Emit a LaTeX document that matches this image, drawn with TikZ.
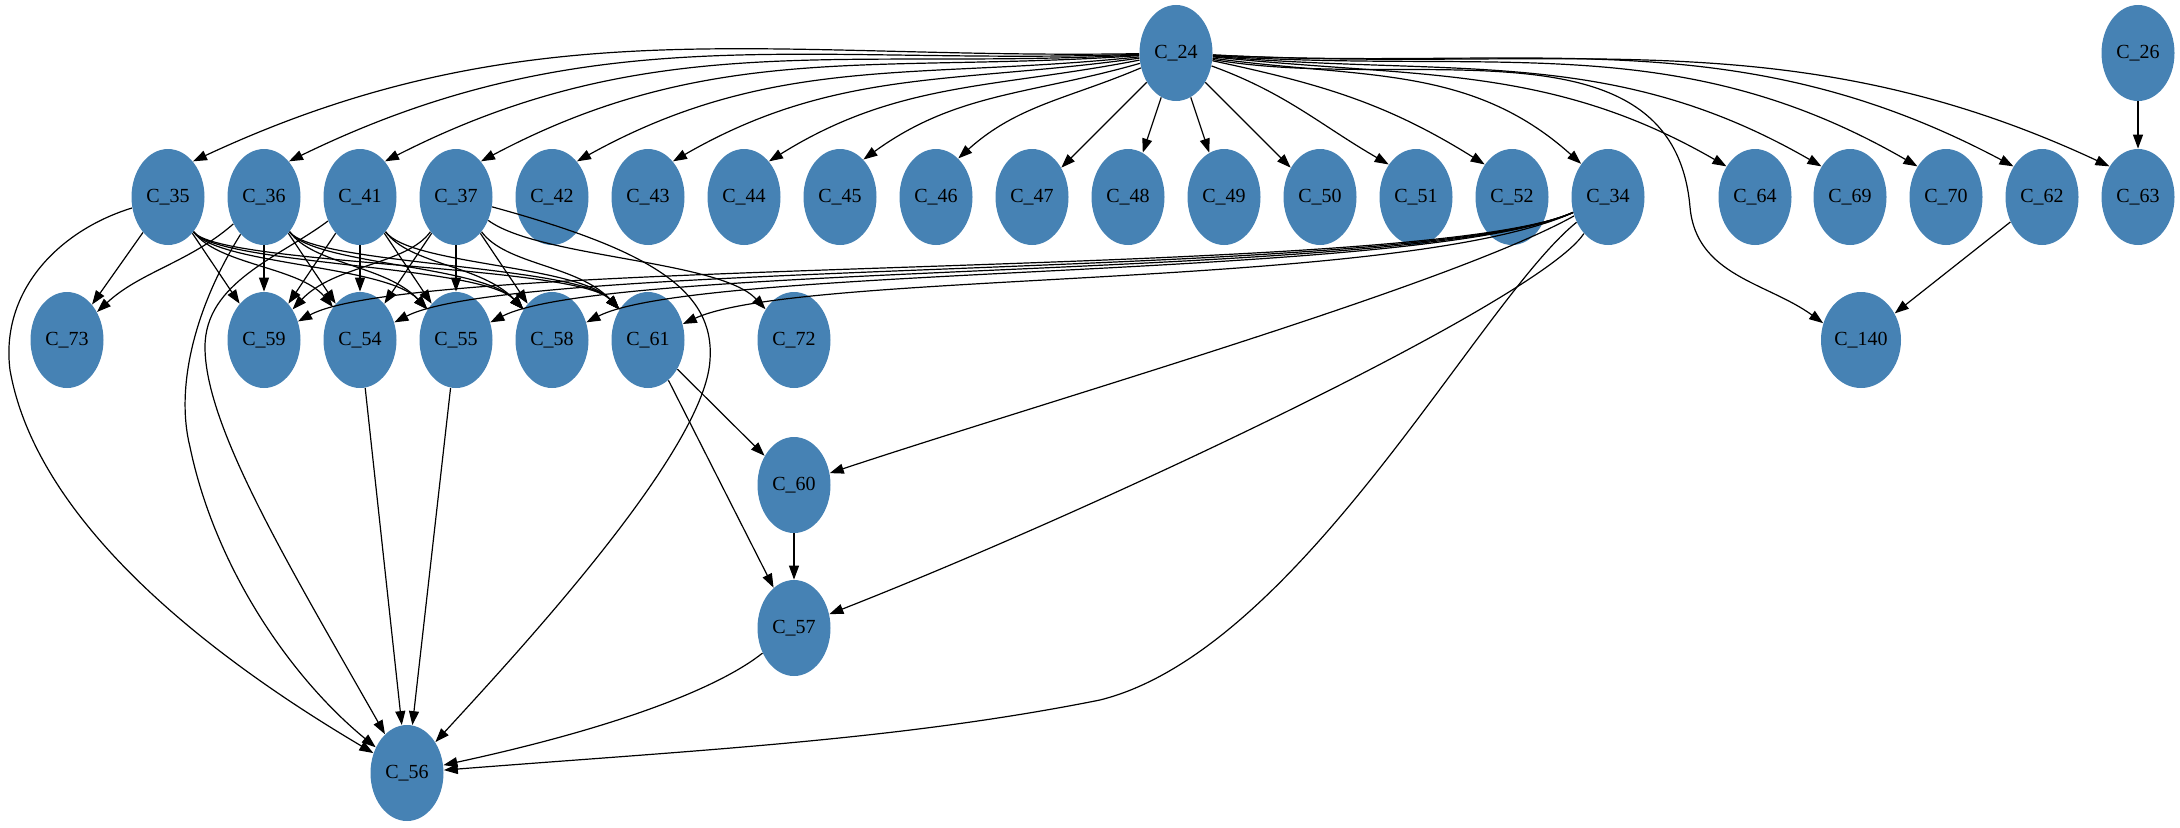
\documentclass[tikz,border=0pt]{standalone}
\usepackage{fontspec}
\setmainfont{Liberation Serif}
\usetikzlibrary{shapes.geometric,arrows.meta}
\definecolor{steelblue}{RGB}{70,130,180}
\begin{document}
\begin{tikzpicture}[x=0.5pt,y=0.5pt,
    comp/.style={ellipse,fill=steelblue,inner sep=0pt,minimum width=36.5pt,
      minimum height=48pt,font=\fontsize{10}{12}\selectfont},
    dep/.style={-{Triangle[length=7pt,width=5pt]},line width=0.6pt}]
\useasboundingbox (0,0) rectangle (2180,827);
% top row
\node[comp] (c24) at (1176,774) {C\_24};
\node[comp] (c26) at (2138,774) {C\_26};
% second row
\node[comp] (c35) at (168,630) {C\_35};
\node[comp] (c36) at (264,630) {C\_36};
\node[comp] (c41) at (360,630) {C\_41};
\node[comp] (c37) at (456,630) {C\_37};
\node[comp] (c42) at (552,630) {C\_42};
\node[comp] (c43) at (648,630) {C\_43};
\node[comp] (c44) at (744,630) {C\_44};
\node[comp] (c45) at (840,630) {C\_45};
\node[comp] (c46) at (936,630) {C\_46};
\node[comp] (c47) at (1032,630) {C\_47};
\node[comp] (c48) at (1128,630) {C\_48};
\node[comp] (c49) at (1224,630) {C\_49};
\node[comp] (c50) at (1320,630) {C\_50};
\node[comp] (c51) at (1416,630) {C\_51};
\node[comp] (c52) at (1512,630) {C\_52};
\node[comp] (c34) at (1608,630) {C\_34};
\node[comp] (c64) at (1755,630) {C\_64};
\node[comp] (c69) at (1850,630) {C\_69};
\node[comp] (c70) at (1946,630) {C\_70};
\node[comp] (c62) at (2042,630) {C\_62};
\node[comp] (c63) at (2138,630) {C\_63};
% third row
\node[comp] (c73) at (67,487) {C\_73};
\node[comp] (c59) at (264,487) {C\_59};
\node[comp] (c54) at (360,487) {C\_54};
\node[comp] (c55) at (456,487) {C\_55};
\node[comp] (c58) at (552,487) {C\_58};
\node[comp] (c61) at (648,487) {C\_61};
\node[comp] (c72) at (794,487) {C\_72};
\node[comp,minimum width=40pt] (c140) at (1861,487) {C\_140};
% lower nodes
\node[comp] (c60) at (794,342) {C\_60};
\node[comp] (c57) at (794,199) {C\_57};
\node[comp] (c56) at (407,54) {C\_56};

% from C_24
\draw[dep] (c24) to[out=181,in=25] (c35.55);
\draw[dep] (c24) to[out=182,in=26] (c36.55);
\draw[dep] (c24) to[out=183,in=27] (c41.55);
\draw[dep] (c24) to[out=184,in=28] (c37.55);
\draw[dep] (c24) to[out=186,in=29] (c42.55);
\draw[dep] (c24) to[out=188,in=30] (c43.55);
\draw[dep] (c24) to[out=191,in=32] (c44.55);
\draw[dep] (c24) to[out=196,in=36] (c45.58);
\draw[dep] (c24) to[out=203,in=42] (c46.60);
\draw[dep] (c24) -- (c47);
\draw[dep] (c24) -- (c48);
\draw[dep] (c24) -- (c49);
\draw[dep] (c24) -- (c50);
\draw[dep] (c24) to[out=-20,in=150] (c51.130);
\draw[dep] (c24) to[out=-12,in=148] (c52.130);
\draw[dep] (c24) to[out=-8,in=138] (c34.129);
\draw[dep] (c24) to[out=-6,in=150] (c64.133);
\draw[dep] (c24) to[out=-5,in=150] (c69.133);
\draw[dep] (c24) to[out=-4,in=150] (c70.133);
\draw[dep] (c24) to[out=-3,in=152] (c62.133);
\draw[dep] (c24) to[out=-3,in=155] (c63.133);
\draw[dep] (c24) to[out=-10,in=95] (1690,620) to[out=-85,in=144] (c140.156);
\draw[dep] (c26) -- (c63);
\draw[dep] (c62) -- (c140);

% from C_35
\draw[dep] (c35) -- (c73);
\draw[dep] (c35) -- (c59);
\draw[dep] (c35) .. controls (218,562) and (300,560) .. (c54);
\draw[dep] (c35) .. controls (218,562) and (386,562) .. (c55);
\draw[dep] (c35) .. controls (218,562) and (482,562) .. (c58);
\draw[dep] (c35) .. controls (218,562) and (578,562) .. (c61);
\draw[dep] (c35) .. controls (60,597) and (0,537) .. (10,457)
  .. controls (40,287) and (250,147) .. (c56);

% from C_36
\draw[dep] (c36) .. controls (190,565) and (140,555) .. (c73);
\draw[dep] (c36) -- (c59);
\draw[dep] (c36) -- (c54);
\draw[dep] (c36) .. controls (314,562) and (386,562) .. (c55);
\draw[dep] (c36) .. controls (314,562) and (482,562) .. (c58);
\draw[dep] (c36) .. controls (314,562) and (578,562) .. (c61);
\draw[dep] (c36) .. controls (195,520) and (175,440) .. (190,380)
  .. controls (215,260) and (290,150) .. (c56);

% from C_41
\draw[dep] (c41) -- (c59);
\draw[dep] (c41) -- (c54);
\draw[dep] (c41) -- (c55);
\draw[dep] (c41) .. controls (410,562) and (482,562) .. (c58);
\draw[dep] (c41) .. controls (410,562) and (578,562) .. (c61);
\draw[dep] (c41) .. controls (280,570) and (205,545) .. (205,480)
  .. controls (205,400) and (290,260) .. (c56);

% from C_37
\draw[dep] (c37) .. controls (406,562) and (334,562) .. (c59);
\draw[dep] (c37) -- (c54);
\draw[dep] (c37) -- (c55);
\draw[dep] (c37) -- (c58);
\draw[dep] (c37) .. controls (506,562) and (578,562) .. (c61);
\draw[dep] (c37) .. controls (540,569) and (720,567) .. (c72);
\draw[dep] (c37) .. controls (650,577) and (715,537) .. (710,467)
  .. controls (705,377) and (520,177) .. (c56);

% from C_34
\draw[dep] (c34) .. controls (1420,547) and (420,572) .. (c59);
\draw[dep] (c34) .. controls (1420,547) and (520,569) .. (c54);
\draw[dep] (c34) .. controls (1420,547) and (610,566) .. (c55);
\draw[dep] (c34) .. controls (1420,547) and (700,563) .. (c58);
\draw[dep] (c34) .. controls (1400,537) and (800,557) .. (c61);
\draw[dep] (c34) .. controls (1450,542) and (1050,427) .. (c60);
\draw[dep] (c34) .. controls (1540,527) and (1100,319) .. (c57);
\draw[dep] (c34) .. controls (1480,527) and (1300,177) .. (1100,127)
  .. controls (900,87) and (700,77) .. (c56);

% lower part
\draw[dep] (c61) -- (c60);
\draw[dep] (c61) -- (c57);
\draw[dep] (c60) -- (c57);
\draw[dep] (c54) -- (c56);
\draw[dep] (c55) -- (c56);
\draw[dep] (c57) .. controls (720,140) and (620,100) .. (c56);
\end{tikzpicture}
\end{document}
